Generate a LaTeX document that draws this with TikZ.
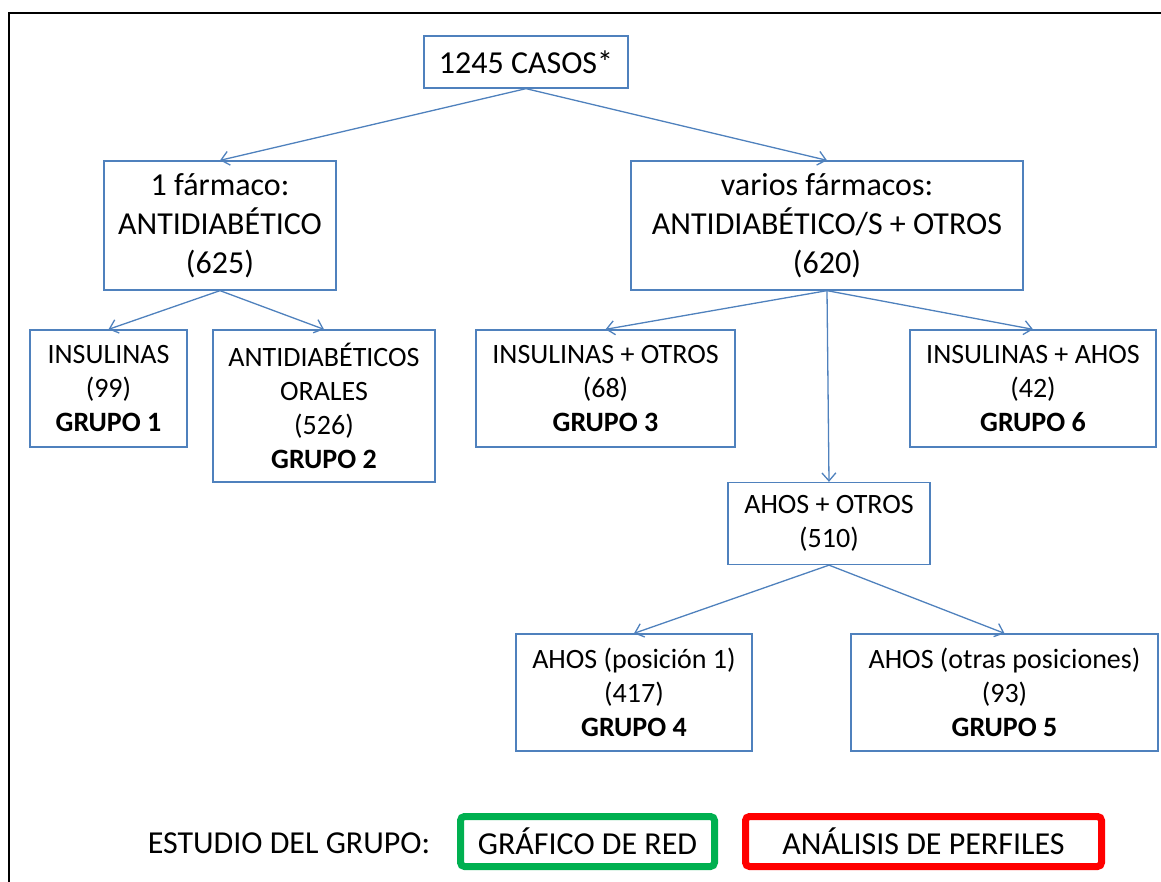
\documentclass[tikz,border=0pt]{standalone}
\usepackage{fontspec}
\setmainfont{Carlito}
\usepackage{xcolor}
\definecolor{Office Blue}{HTML}{4F81BD}
\definecolor{Office Green}{HTML}{00B050}
\definecolor{Pure Red}{HTML}{FF0000}
\colorlet{cBlue}{Office Blue}
\colorlet{cGreen}{Office Green}
\colorlet{cRed}{Pure Red}
\usepackage{tikz}
\usetikzlibrary{arrows.meta, positioning}
\tikzset{
	line width = .65pt,
	>={Straight Barb[length=4pt,width=7pt]},
	big/.style={font=\fontsize{16}{19.5}\selectfont},
	small/.style={font=\fontsize{14}{17}\selectfont},
	caja/.style={
		draw=cBlue,
		line width=.65pt,
		align=center,
		inner sep=0pt
	},
	marco/.style={
		draw=#1,
		line width=3.5pt,
		rounded corners=2pt,
		align=center,
		inner sep=0pt,
		minimum height=25pt,
		font=\fontsize{16}{19.5}\selectfont
	},
	edge/.style={
		->,
		draw=cBlue,
		line width=.65pt
	}
}

\begin{document}
\begin{tikzpicture}[x=.5pt, y=-.5pt]
		\useasboundingbox (0,0) rectangle (1161,882);
		\draw[line width=1pt] (9,882) -- (9,13) -- (1161,13);

		\node[caja, big, minimum width=102pt, minimum height=26pt] (casos) at (526,62) {1245 CASOS*};
		\node[caja, big, minimum width=116pt, minimum height=64.5pt] (uno) at (220,225.5) {1 fármaco:\\ANTIDIABÉTICO\\(625)};
		\node[caja, big, minimum width=196pt, minimum height=64.5pt] (varios) at (827,225.5) {varios fármacos:\\ANTIDIABÉTICO/S + OTROS\\(620)};

		\node[caja, small, minimum width=78.5pt, minimum height=58.5pt] (insul) at (108.5,388.5) {INSULINAS\\(99)\\\textbf{GRUPO 1}};
		\node[caja, small, minimum width=111pt, minimum height=76pt] (orales) at (324,406) {ANTIDIABÉTICOS\\ORALES\\(526)\\\textbf{GRUPO 2}};
		\node[caja, small, minimum width=129.5pt, minimum height=58.5pt] (insotros) at (605.5,388.5) {INSULINAS + OTROS\\(68)\\\textbf{GRUPO 3}};
		\node[caja, small, minimum width=123pt, minimum height=58.5pt] (insahos) at (1033,388.5) {INSULINAS + AHOS\\(42)\\\textbf{GRUPO 6}};
		\node[caja, small, minimum width=101pt, minimum height=41pt] (ahosotros) at (829,523.5) {AHOS + OTROS\\(510)};
		\node[caja, small, minimum width=118pt, minimum height=58.5pt] (ahosuno) at (634,692.5) {AHOS (posición 1)\\(417)\\\textbf{GRUPO 4}};
		\node[caja, small, minimum width=153.5pt, minimum height=58.5pt] (ahosotras) at (1004.5,692.5) {AHOS (otras posiciones)\\(93)\\\textbf{GRUPO 5}};

		\draw[edge] (casos.south) -- (uno.north);
		\draw[edge] (casos.south) -- (varios.north);
		\draw[edge] (uno.south) -- (insul.north);
		\draw[edge] (uno.south) -- (orales.north);
		\draw[edge] (varios.south) -- (insotros.north);
		\draw[edge] (varios.south) -- (ahosotros.north);
		\draw[edge] (varios.south) -- (insahos.north);
		\draw[edge] (ahosotros.south) -- (ahosuno.north);
		\draw[edge] (ahosotros.south) -- (ahosotras.north);

		\node[big] (estudio) at (289,843) {ESTUDIO DEL GRUPO:};
		\node[marco=cGreen, minimum width=127pt] (red) at (587.5,841.5) {GRÁFICO DE RED};
		\node[marco=cRed, minimum width=178pt] (perfiles) at (923.5,841.5) {ANÁLISIS DE PERFILES};
	\end{tikzpicture}
\end{document}
